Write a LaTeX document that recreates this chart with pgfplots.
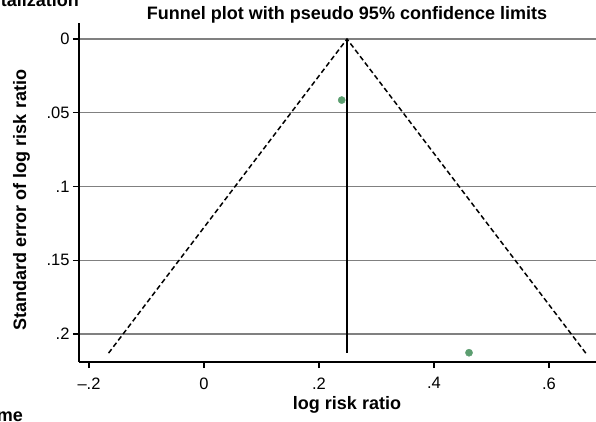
\documentclass[border=0pt]{standalone}
\usepackage{fontspec}
\setmainfont{Liberation Sans}
\usepackage{pgfplots}
\pgfplotsset{compat=1.18}
\definecolor{gridc}{RGB}{128,128,128}
\definecolor{dotc}{RGB}{92,158,112}
\begin{document}
\begin{tikzpicture}
\path[use as bounding box, clip] (0,0) rectangle (596bp,-422bp);
\begin{axis}[
  at={(79bp,-23bp)}, anchor=north west,
  scale only axis, width=536bp, height=339bp,
  xmin=-0.2174, xmax=0.7148, ymin=-0.01085, ymax=0.2190,
  y dir=reverse,
  axis x line*=bottom, axis y line*=left,
  axis line style={-, line width=1.3bp, black},
  xtick={-0.2,0,0.2,0.4,0.6}, xticklabels={–.2,0,.2,.4,.6},
  ytick={0,0.05,0.1,0.15,0.2}, yticklabels={0,.05,.1,.15,.2},
  tick align=outside, major tick length=6bp,
  tick style={black, line width=1.3bp},
  ticklabel style={font=\fontsize{16.5bp}{18bp}\selectfont},
  xticklabel style={yshift=-6bp},
  ymajorgrids, major grid style={gridc, line width=1.3bp},
  clip=false,
]
\addplot[black, line width=1.5bp, dash pattern=on 5bp off 3bp] coordinates {(-0.166,0.213) (0.2487,0) (0.664,0.213)};
\addplot[black, line width=1.8bp] coordinates {(0.2487,0) (0.2487,0.213)};
\addplot[only marks, mark=*, mark size=3.6bp, draw=dotc, fill=dotc] coordinates {(0.2395,0.0414) (0.4609,0.2127)};
\end{axis}
\node[anchor=base, font=\bfseries\fontsize{18bp}{20bp}\selectfont] at (347bp,-19bp) {Funnel plot with pseudo 95\% confidence limits};
\node[anchor=base, font=\bfseries\fontsize{18bp}{20bp}\selectfont] at (347bp,-409bp) {log risk ratio};
\node[anchor=base, rotate=90, font=\bfseries\fontsize{18bp}{20bp}\selectfont] at (26bp,-200bp) {Standard error of log risk ratio};
\node[anchor=base east, inner sep=0pt, font=\bfseries\fontsize{18bp}{20bp}\selectfont] at (79bp,-6bp) {Hospitalization};
\node[anchor=base east, inner sep=0pt, font=\bfseries\fontsize{18bp}{20bp}\selectfont] at (23bp,-421bp) {Outcome};
\end{tikzpicture}
\end{document}
